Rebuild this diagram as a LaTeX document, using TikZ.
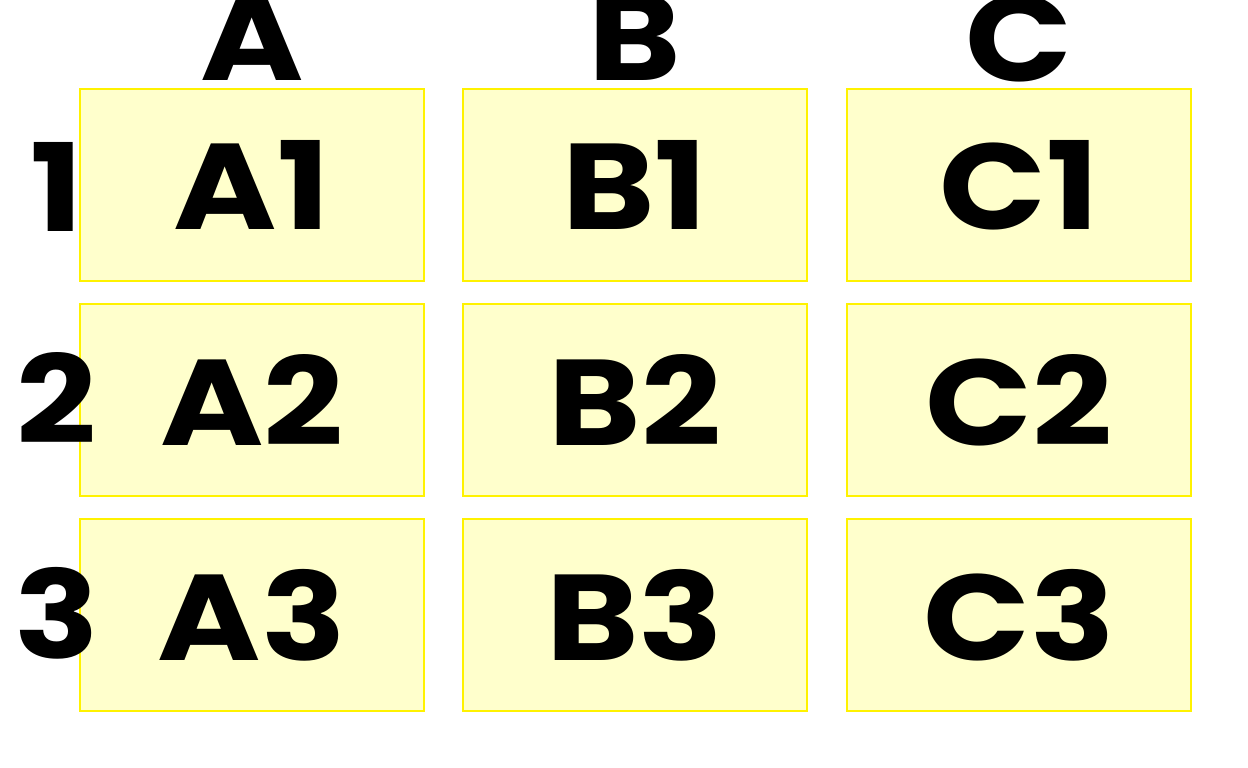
\documentclass[tikz,border=0pt]{standalone}
\usepackage{fontspec}
\setmainfont{Poppins}[FakeStretch=1.15]
\begin{document}
\begin{tikzpicture}[x=1pt,y=-1pt,
  cell/.style={draw=yellow,line width=2.8pt,fill={rgb,255:red,255;green,255;blue,204},minimum width=344pt,minimum height=192pt,inner sep=0pt},
  lbl/.style={font=\fontsize{122}{122}\selectfont\bfseries,inner sep=0pt,text=black}]
\useasboundingbox (0,0) rectangle (1248,768);
\clip (0,0) rectangle (1248,768);
\foreach \c/\x in {A/252,B/635,C/1019}{
  \foreach \r/\y in {1/185,2/400,3/615}{
    \node[cell] (box\c\r) at (\x,\y) {};
    \node[lbl] (t\c\r) at (box\c\r.center) {\c\r};
  }
  \node[lbl] (col\c) at (\x,38) {\c};
}
\foreach \r/\y in {1/187,2/398,3/613}{
  \node[lbl] (row\r) at (57,\y) {\r};
}
\end{tikzpicture}
\end{document}
